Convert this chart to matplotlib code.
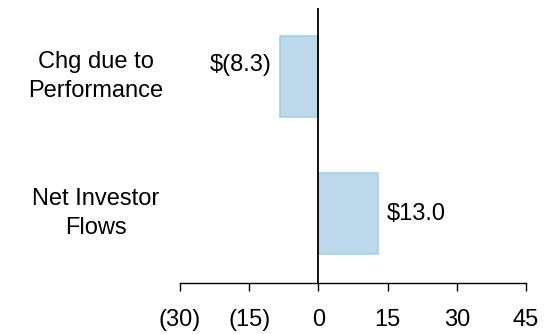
import numpy as np
import matplotlib
matplotlib.use("Agg")
from matplotlib import pyplot as plt

plt.rcParams['font.family'] = ['Liberation Sans', 'DejaVu Sans']

categories = ["Net Investor\nFlows", "Chg due to\nPerformance"]
values = [13.0, -8.3]
value_labels = ["$13.0", "$(8.3)"]
xticks = [-30, -15, 0, 15, 30, 45]
xtick_labels = ["(30)", "(15)", "0", "15", "30", "45"]

fig = plt.figure(figsize=(5.55, 3.34), dpi=100)
ax = fig.add_axes([0.3243, 0.1527, 0.6234, 0.8233])

ypos = np.arange(len(categories))
ax.barh(ypos, values, height=0.59, color="#bdd7eb", edgecolor="#a6d2e6", linewidth=1.2, zorder=2)
ax.axvline(0, color="black", linewidth=1.3, zorder=3)

ax.set_xlim(-30, 45)
ax.set_ylim(-0.507, 1.5)

# value labels beside each bar
for y, v, lab in zip(ypos, values, value_labels):
    if v >= 0:
        ax.annotate(lab, (v, y), xytext=(6, 0), textcoords="offset points",
                    ha="left", va="center", fontsize=17)
    else:
        ax.annotate(lab, (v, y + 0.085), xytext=(-6, 0), textcoords="offset points",
                    ha="right", va="center", fontsize=17)

# category names, centred left of the plot
for y, cat in zip(ypos, categories):
    ax.text(-0.243, y, cat, transform=ax.get_yaxis_transform(), ha="center", va="center",
            fontsize=17, linespacing=1.43)

ax.set_yticks([])
ax.set_xticks(xticks)
ax.set_xticklabels(xtick_labels, fontsize=17)
ax.tick_params(axis="x", length=6, width=1, pad=13, direction="out")

for s in ["top", "right", "left"]:
    ax.spines[s].set_visible(False)
ax.spines["bottom"].set_linewidth(1)

plt.savefig("out.png", dpi=100)
